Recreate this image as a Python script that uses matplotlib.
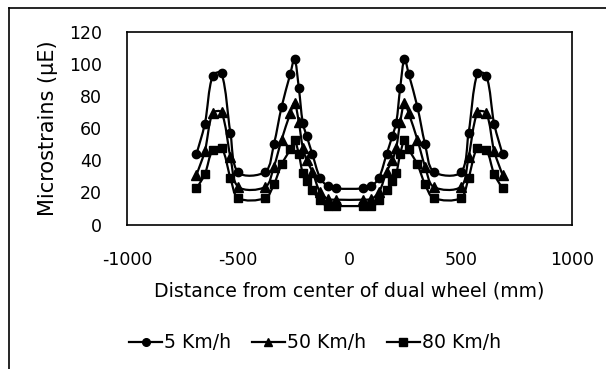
import matplotlib
matplotlib.use("Agg")
import matplotlib.pyplot as plt
from matplotlib.path import Path
from matplotlib.patches import PathPatch
from matplotlib.lines import Line2D
import numpy as np

plt.rcParams['font.family'] = ['DejaVu Sans']
plt.rcParams['axes.unicode_minus'] = False

distance_mm = [-688, -650, -615, -575, -535, -500, -378, -340, -305, -266, -247, -228, -210, -192, -167, -132, -98, -60,
               60, 98, 132, 167, 192, 210, 228, 247, 266, 305, 340, 378, 500, 535, 575, 615, 650, 688]

strain_5 = [44, 63, 93, 94.5, 57, 32.5, 33, 50, 73.5, 94, 103.5, 85.5, 63.5, 55, 44, 29, 24, 22.5,
            22.5, 24, 29, 44, 55, 63.5, 85.5, 103.5, 94, 73.5, 50, 33, 32.5, 57, 94.5, 93, 63, 44]
strain_50 = [31, 46, 69.5, 70, 42, 23.5, 23.5, 36, 53, 69.5, 76, 64, 48, 40, 33, 20, 16, 15.5,
             15.5, 16, 20, 33, 40, 48, 64, 76, 69.5, 53, 36, 23.5, 23.5, 42, 70, 69.5, 46, 31]
strain_80 = [22.5, 31.5, 46.5, 48, 29, 16.5, 16.5, 25, 37.5, 47, 52.5, 44, 32, 27, 21.5, 15, 11.5, 11.5,
             11.5, 11.5, 15, 21.5, 27, 32, 44, 52.5, 47, 37.5, 25, 16.5, 16.5, 29, 48, 46.5, 31.5, 22.5]

series_labels = ['5 Km/h', '50 Km/h', '80 Km/h']
series_values = [strain_5, strain_50, strain_80]
series_markers = ['o', '^', 's']
marker_sizes = [6, 6.5, 6]

x_ticks = [-1000, -500, 0, 500, 1000]
y_ticks = [0, 20, 40, 60, 80, 100, 120]

W, H = 606, 369
fig = plt.figure(figsize=(W / 100, H / 100), dpi=100)
ax = fig.add_axes([127 / W, 1 - 224.5 / H, (572 - 127) / W, (224.5 - 32.3) / H])
ax.set_xlim(-1000, 1000)
ax.set_ylim(0, 120)


def smooth_path(xs, ys):
    pts = np.column_stack([xs, ys]).astype(float)
    pix = ax.transData.transform(pts)
    n = len(pts)
    seg = np.hypot(*np.diff(pix, axis=0).T)

    def tangent(i):
        if i == 0 or i == n - 1:
            return np.zeros(2), 0.0, 0.0
        return pts[i + 1] - pts[i - 1], seg[i - 1], seg[i]

    verts = [pts[0]]
    codes = [Path.MOVETO]
    for i in range(n - 1):
        t1, a1, b1 = tangent(i)
        t2, a2, b2 = tangent(i + 1)
        w1 = b1 / (a1 + b1) / 3.0 if (a1 + b1) > 0 else 0.0
        w2 = a2 / (a2 + b2) / 3.0 if (a2 + b2) > 0 else 0.0
        c1 = pts[i] + t1 * w1
        c2 = pts[i + 1] - t2 * w2
        verts += [c1, c2, pts[i + 1]]
        codes += [Path.CURVE4] * 3
    return Path(verts, codes)


handles = []
for vals, lab, mk, ms in zip(series_values, series_labels, series_markers, marker_sizes):
    patch = PathPatch(smooth_path(distance_mm, vals), facecolor='none', edgecolor='black', lw=1.6, zorder=2)
    ax.add_patch(patch)
    ax.plot(distance_mm, vals, linestyle='none', marker=mk, color='black', markersize=ms, zorder=3)
    handles.append(Line2D([], [], color='black', lw=1.6, marker=mk, markersize=ms - 0.5, label=lab))

ax.set_xticks(x_ticks)
ax.set_yticks(y_ticks)
ax.tick_params(axis='both', length=0, labelsize=12.5)
ax.tick_params(axis='y', pad=18)
ax.tick_params(axis='x', pad=19)
for s in ax.spines.values():
    s.set_linewidth(1.2)
    s.set_color('black')

ax.set_xlabel('Distance from center of dual wheel (mm)', fontsize=13.6, labelpad=9)
ax.set_ylabel('Microstrains (\u03bcE)', fontsize=15, labelpad=8)

fig.legend(handles=handles, loc='center', bbox_to_anchor=(315 / W, 1 - 343 / H), ncol=3, frameon=False,
           fontsize=13.6, handlelength=1.75, columnspacing=1.1, handletextpad=0.1)

# outer chart border (visible left and top edges)
fig.add_artist(Line2D([8.5 / W, 8.5 / W], [0, 1 - 8 / H], transform=fig.transFigure, color='black', lw=1.2))
fig.add_artist(Line2D([8.5 / W, 1], [1 - 8 / H, 1 - 8 / H], transform=fig.transFigure, color='black', lw=1.2))

fig.savefig('out.png', dpi=100)
